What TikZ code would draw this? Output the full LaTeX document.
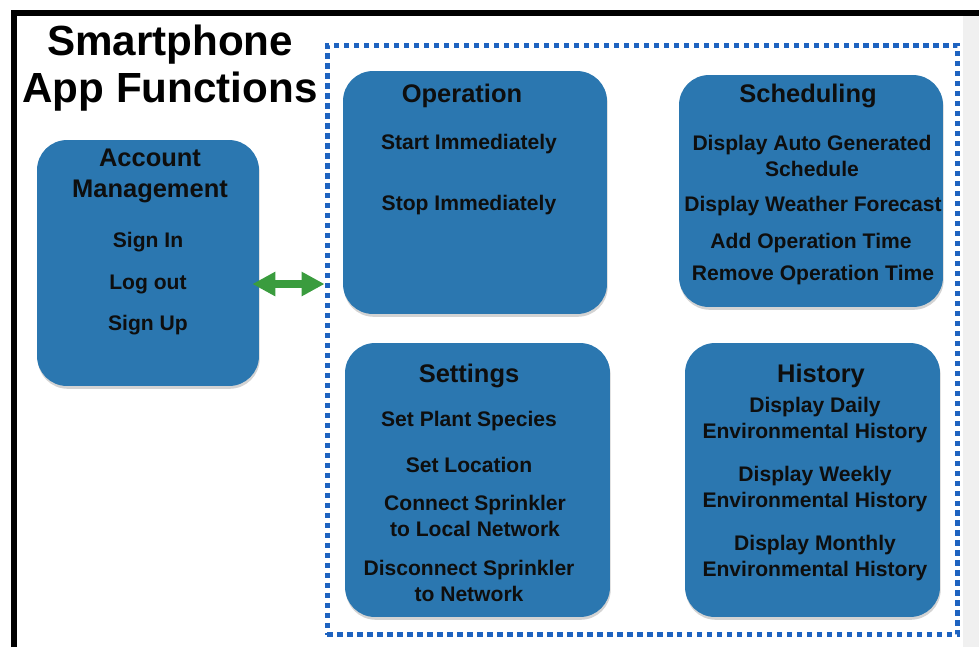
\documentclass[tikz,border=0pt]{standalone}
\usepackage{fontspec}
\setmainfont{Liberation Sans}
\usetikzlibrary{positioning, arrows.meta, shadows}
\definecolor{boxBlue}{HTML}{2B77B0}
\definecolor{dotBlue}{HTML}{1E63C0}
\definecolor{arrowGreen}{HTML}{3A9C3E}
\definecolor{edgeGrey}{HTML}{F0F0F0}
\definecolor{inkBlack}{HTML}{0E0E0E}

\tikzset{
  appbox/.style={rectangle, rounded corners=0.6cm, fill=boxBlue, draw=none,
    drop shadow={opacity=0.35, shadow xshift=0.4pt, shadow yshift=-1.6pt}},
  dotframe/.style={rectangle, draw=dotBlue, line width=0.1cm,
    dash pattern=on 0.11cm off 0.09cm, inner sep=0pt},
  headtxt/.style={font=\fontsize{14.5}{17.5}\selectfont\bfseries, color=inkBlack, align=center, inner sep=0pt},
  itemtxt/.style={font=\fontsize{12}{14.4}\selectfont\bfseries, color=inkBlack, align=center, inner sep=0pt},
  biarrow/.style={{Triangle[length=0.46cm, width=0.46cm]}-{Triangle[length=0.46cm, width=0.46cm]},
    line width=0.16cm, color=arrowGreen}
}

\begin{document}
\begin{tikzpicture}[x=0.02cm, y=-0.02cm]
  \useasboundingbox (0,0) rectangle (979,647);
  \fill[edgeGrey] (963,16) rectangle (979,647);
  \draw[line width=0.12cm, color=black] (14,647) -- (14,13) -- (979,13);

  % title
  \node[font=\fontsize{24}{27.2}\selectfont\bfseries, align=center, inner sep=0pt] (title) at (170,68)
    {Smartphone\\App Functions};

  % dotted group of functions
  \node[dotframe, minimum width=12.62cm, minimum height=11.8cm] (funcs) at (642.5,340) {};

  % account box
  \node[appbox, minimum width=4.44cm, minimum height=4.92cm] (acct) at (148,263) {};
  \node[headtxt] (acctHead) at (150,176) {Account\\Management};
  \node[itemtxt] (signIn) at (148,242) {Sign In};
  \node[itemtxt] (logOut) at (148,284) {Log out};
  \node[itemtxt] (signUp) at (148,325) {Sign Up};

  % operation
  \node[appbox, minimum width=5.28cm, minimum height=4.86cm] (oper) at (475,192.5) {};
  \node[headtxt] (operHead) at (462,96) {Operation};
  \node[itemtxt] (startNow) at (469,144) {Start Immediately};
  \node[itemtxt] (stopNow) at (469,205) {Stop Immediately};

  % scheduling
  \node[appbox, minimum width=5.28cm, minimum height=4.64cm] (sched) at (811,191) {};
  \node[headtxt] (schedHead) at (808,96) {Scheduling};
  \node[itemtxt] (autoSched) at (812,156) {Display Auto Generated\\Schedule};
  \node[itemtxt] (weather) at (813,206) {Display Weather Forecast};
  \node[itemtxt] (addTime) at (811,243) {Add Operation Time};
  \node[itemtxt] (remTime) at (813,275) {Remove Operation Time};

  % settings
  \node[appbox, minimum width=5.3cm, minimum height=5.48cm] (sett) at (477.5,480) {};
  \node[headtxt] (settHead) at (469,376) {Settings};
  \node[itemtxt] (species) at (469,421) {Set Plant Species};
  \node[itemtxt] (location) at (469,465) {Set Location};
  \node[itemtxt] (connect) at (475,516) {Connect Sprinkler\\to Local Network};
  \node[itemtxt] (disconnect) at (469,581) {Disconnect Sprinkler\\to Network};

  % history
  \node[appbox, minimum width=5.1cm, minimum height=5.48cm] (hist) at (812.5,480) {};
  \node[headtxt] (histHead) at (821,376) {History};
  \node[itemtxt] (daily) at (815,420) {Display Daily\\Environmental History};
  \node[itemtxt] (weekly) at (815,489) {Display Weekly\\Environmental History};
  \node[itemtxt] (monthly) at (815,558) {Display Monthly\\Environmental History};

  % link between account and the functions
  \draw[biarrow, shorten <=-0.14cm] (acct.east |- logOut) -- (funcs.west |- logOut);
\end{tikzpicture}
\end{document}
